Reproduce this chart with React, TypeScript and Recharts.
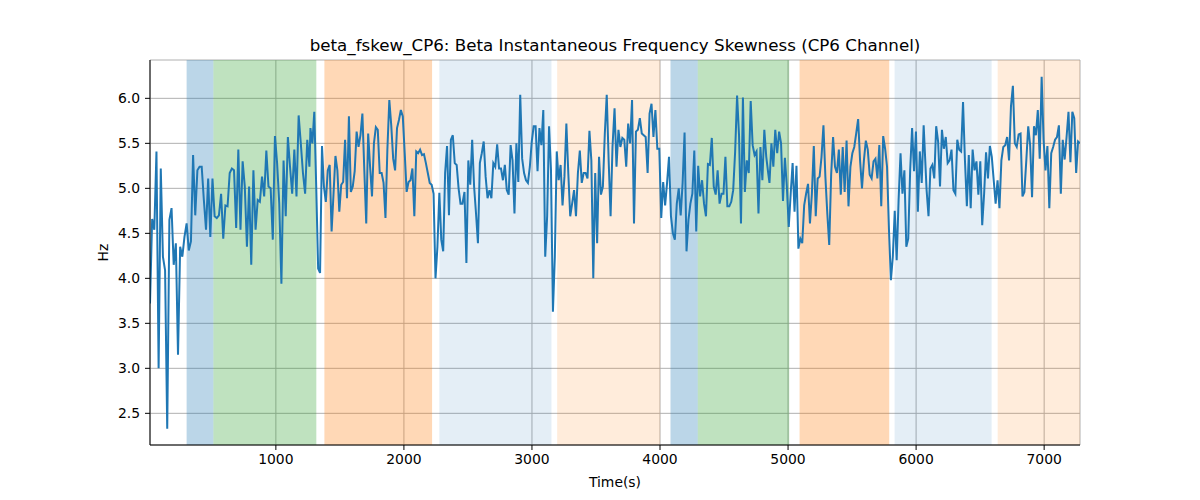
import React from "react";
import {
  LineChart,
  Line,
  XAxis,
  YAxis,
  CartesianGrid,
  ReferenceArea,
} from "recharts";

// Hz values, one array per stretch of the time axis
const seg1 = [
  3.72, 4.66, 4.54, 5.41, 3.0, 5.22, 4.24, 4.09, 2.33, 4.65,
  4.78, 4.15, 4.39, 3.15, 4.35, 4.24, 4.46, 4.61, 4.31, 4.41,
  5.37, 4.7, 5.2, 5.24, 5.24, 4.87, 4.54, 5.11, 4.46, 5.11,
  4.69, 4.67, 4.7, 4.94, 4.44, 4.81, 4.8, 5.17, 5.22, 5.2,
  4.56, 5.43, 4.54, 5.3, 5.02, 4.35, 5.02, 4.15, 5.2, 4.54,
  4.87, 4.85, 5.13, 4.91, 5.42, 5.02, 5.0, 4.43, 5.58, 5.28,
  4.83, 3.94, 5.31, 4.69, 5.57, 5.24, 4.94, 5.43, 4.91, 5.81,
  5.5, 5.17, 4.94, 5.54, 5.24,
];
const seg2 = [
  5.67, 5.5, 5.85, 5.02, 4.11, 4.06, 5.47, 5.02, 4.85, 5.2,
  5.26, 4.52, 4.94, 5.36, 5.2, 4.74, 5.04, 5.07, 5.54, 4.89,
  5.8, 4.96, 5.02, 5.19, 5.63, 5.46, 5.59, 5.83, 5.2, 4.61,
  5.61, 5.24, 4.91, 5.5, 5.68, 5.65, 5.17, 5.17, 5.06, 4.67,
  5.44, 5.98, 5.7, 5.33, 5.2, 5.67, 5.76, 5.87, 5.8, 5.39,
  4.96, 5.07, 5.09, 5.22, 4.69, 5.41, 5.39, 5.43, 5.37, 5.38,
  5.28, 5.17, 5.06, 5.04, 4.94, 4.0, 4.35, 4.95, 4.43, 4.3,
  5.17, 5.47, 4.7, 5.54, 5.59, 5.28, 5.26, 5.0, 4.83, 4.83,
];
const seg3 = [
  4.96, 4.17, 5.31, 5.04, 5.54, 5.02, 4.72, 4.39, 5.28, 5.39,
  5.52, 5.13, 4.89, 4.98, 4.89, 5.28, 5.24, 5.49, 5.22, 5.22,
  5.09, 5.26, 4.98, 4.93, 5.48, 5.31, 4.72, 5.5, 5.07, 6.04,
  5.33, 5.17, 5.09, 5.06, 5.24, 5.52, 5.69, 5.69, 5.19, 5.67,
  5.48, 5.87, 4.24, 4.69, 5.69, 5.2, 3.63, 4.24, 5.41, 5.09,
  5.26, 4.81, 5.13, 5.72, 5.17, 4.69, 4.83, 4.98, 4.69, 5.17,
  5.42, 5.06, 5.17, 5.17, 5.11, 5.64, 5.31, 4.0, 5.17, 4.39,
  5.35, 4.93, 5.02, 5.61, 6.04, 5.31, 4.69, 5.46,
];
const seg4 = [
  5.89, 5.24, 5.65, 5.46, 5.56, 5.54, 5.24, 5.72, 5.5, 5.98,
  4.61, 5.63, 5.65, 5.78, 5.61, 5.59, 5.57, 5.17, 5.83, 5.94,
  5.57, 5.87, 5.44, 5.44, 4.67, 5.07, 4.81, 5.06, 5.35, 4.69,
  4.5, 4.43, 4.83, 5.0, 4.7, 5.06, 5.62, 4.3, 4.65, 4.83,
  4.94, 5.42, 4.52, 5.25, 4.91, 5.09, 4.83, 4.69, 5.27, 5.26,
  5.56, 5.02, 4.93, 5.2, 4.83, 4.94, 4.94, 5.35, 4.8, 4.8,
  4.85, 4.98, 5.41, 6.03, 5.59, 4.61, 6.01, 4.96, 5.31, 5.17,
  5.97, 5.48, 5.37, 5.41, 4.72, 5.46, 5.09, 5.65, 5.35, 5.17,
];
const seg5 = [
  5.06, 5.5, 5.24, 5.65, 5.39, 5.63, 5.5, 4.86, 5.34, 5.02,
  4.57, 4.94, 5.28, 4.74, 5.25, 4.33, 4.44, 4.39, 4.81, 4.94,
  5.05, 4.61, 4.94, 5.47, 4.69, 5.11, 5.13, 5.35, 5.7, 5.13,
  4.72, 4.37, 5.15, 5.57, 5.24, 5.17, 5.43, 4.93, 5.46, 4.96,
  5.53, 4.8, 5.24, 5.39, 5.46, 5.61, 5.77, 5.31, 5.0, 5.31,
  5.53, 5.43, 5.15, 5.11, 5.3, 5.33, 5.11, 5.48, 4.8, 5.58,
  5.44, 5.24, 4.54, 3.98, 4.24, 4.75, 4.2, 4.87, 5.39, 4.94,
  5.2, 4.35, 4.44, 5.2, 5.67, 5.19, 5.63, 4.74, 5.41, 5.06,
  5.7,
];
const seg6 = [
  4.98, 4.69, 5.22, 5.26, 5.11, 5.69, 5.52, 5.02, 5.65, 5.44,
  5.57, 5.28, 5.31, 5.43, 4.98, 4.94, 5.54, 5.43, 5.41, 5.96,
  5.31, 4.8, 5.37, 4.78, 5.43, 5.2, 5.3, 4.93, 5.3, 4.59,
  4.94, 5.4, 5.11, 5.47, 5.35, 5.09, 4.83, 5.09, 4.78, 5.31,
  5.46, 5.48, 5.57, 5.31, 5.91, 6.14, 5.5, 5.46, 5.6, 5.61,
  4.91, 4.96, 5.31, 5.69, 5.48, 4.9, 5.69, 5.59, 5.87, 5.33,
  6.24, 5.54, 5.2, 5.47, 4.78, 5.39, 5.46, 5.54, 5.57, 5.7,
  4.94, 5.54, 5.32, 5.57, 5.85, 5.29, 5.85, 5.78, 5.17, 5.52,
  5.5,
];

const segments = [seg1, seg2, seg3, seg4, seg5, seg6];
// first and last time (s) of each stretch
const segStart = [17, 1270, 2473, 3645, 4855, 6082];
const segEnd = [1262, 2457, 3629, 4845, 6059, 7280];

// shaded spans: [from, to, colour, opacity]
const spanFrom = [303, 512, 1379, 2277, 3197, 4082, 4295, 5090, 5832, 6637];
const spanTo = [512, 1316, 2220, 3152, 4001, 4295, 5009, 5790, 6590, 7280];
const spanColor = [
  "#1f77b4", "#2ca02c", "#ff7f0e", "#1f77b4", "#ff7f0e",
  "#1f77b4", "#2ca02c", "#ff7f0e", "#1f77b4", "#ff7f0e",
];
const spanAlpha = [0.3, 0.3, 0.3, 0.12, 0.15, 0.3, 0.3, 0.3, 0.12, 0.15];

const xTicks = [1000, 2000, 3000, 4000, 5000, 6000, 7000];
const yTicks = [2.5, 3.0, 3.5, 4.0, 4.5, 5.0, 5.5, 6.0];

const data: { t: number; hz: number }[] = [];
segments.forEach((vals, s) => {
  const step = (segEnd[s] - segStart[s]) / (vals.length - 1);
  vals.forEach((v, i) => data.push({ t: segStart[s] + i * step, hz: v }));
});

const font = "'DejaVu Sans', sans-serif";
const tickStyle = { fontSize: 13.9, fontFamily: font, fill: "#000" };

export default function App() {
  return (
    <div style={{ position: "absolute", left: 0, top: 0, width: 1200, height: 500, background: "#fff" }}>
      <div
        style={{
          position: "absolute",
          left: 150,
          width: 930,
          top: 35,
          textAlign: "center",
          fontFamily: font,
          fontSize: 16.7,
          lineHeight: "20px",
          color: "#000",
        }}
      >
        beta_fskew_CP6: Beta Instantaneous Frequency Skewness (CP6 Channel)
      </div>
      <LineChart width={1200} height={500} data={data} margin={{ top: 60, right: 120, left: 90, bottom: 5 }}>
        {spanFrom.map((x1, i) => (
          <ReferenceArea
            key={i}
            x1={x1}
            x2={spanTo[i]}
            fill={spanColor[i]}
            fillOpacity={spanAlpha[i]}
            stroke="none"
            ifOverflow="hidden"
          />
        ))}
        <CartesianGrid stroke="#b0b0b0" strokeWidth={1} ticks={undefined} />
        <XAxis
          dataKey="t"
          type="number"
          domain={[17, 7280]}
          ticks={xTicks}
          allowDataOverflow
          height={50}
          tick={tickStyle}
          tickSize={5}
          tickMargin={4}
          stroke="#000"
          label={{ value: "Time(s)", position: "insideBottom", offset: 8, style: { fontSize: 13.9, fontFamily: font, fill: "#000" } }}
        />
        <XAxis xAxisId="top" orientation="top" dataKey="t" type="number" domain={[17, 7280]} height={0} tick={false} tickLine={false} stroke="#000" />
        <YAxis
          type="number"
          domain={[2.148, 6.426]}
          ticks={yTicks}
          allowDataOverflow
          width={60}
          tick={tickStyle}
          tickSize={5}
          tickMargin={5}
          tickFormatter={(v: number) => v.toFixed(1)}
          stroke="#000"
          label={{
            value: "Hz",
            angle: -90,
            position: "insideLeft",
            offset: 13,
            style: { fontSize: 13.9, fontFamily: font, fill: "#000", textAnchor: "middle" },
          }}
        />
        <YAxis yAxisId="right" orientation="right" domain={[2.148, 6.426]} width={0} tick={false} tickLine={false} stroke="#000" />
        <Line
          type="linear"
          dataKey="hz"
          stroke="#1f77b4"
          strokeWidth={2}
          dot={false}
          isAnimationActive={false}
        />
      </LineChart>
    </div>
  );
}
